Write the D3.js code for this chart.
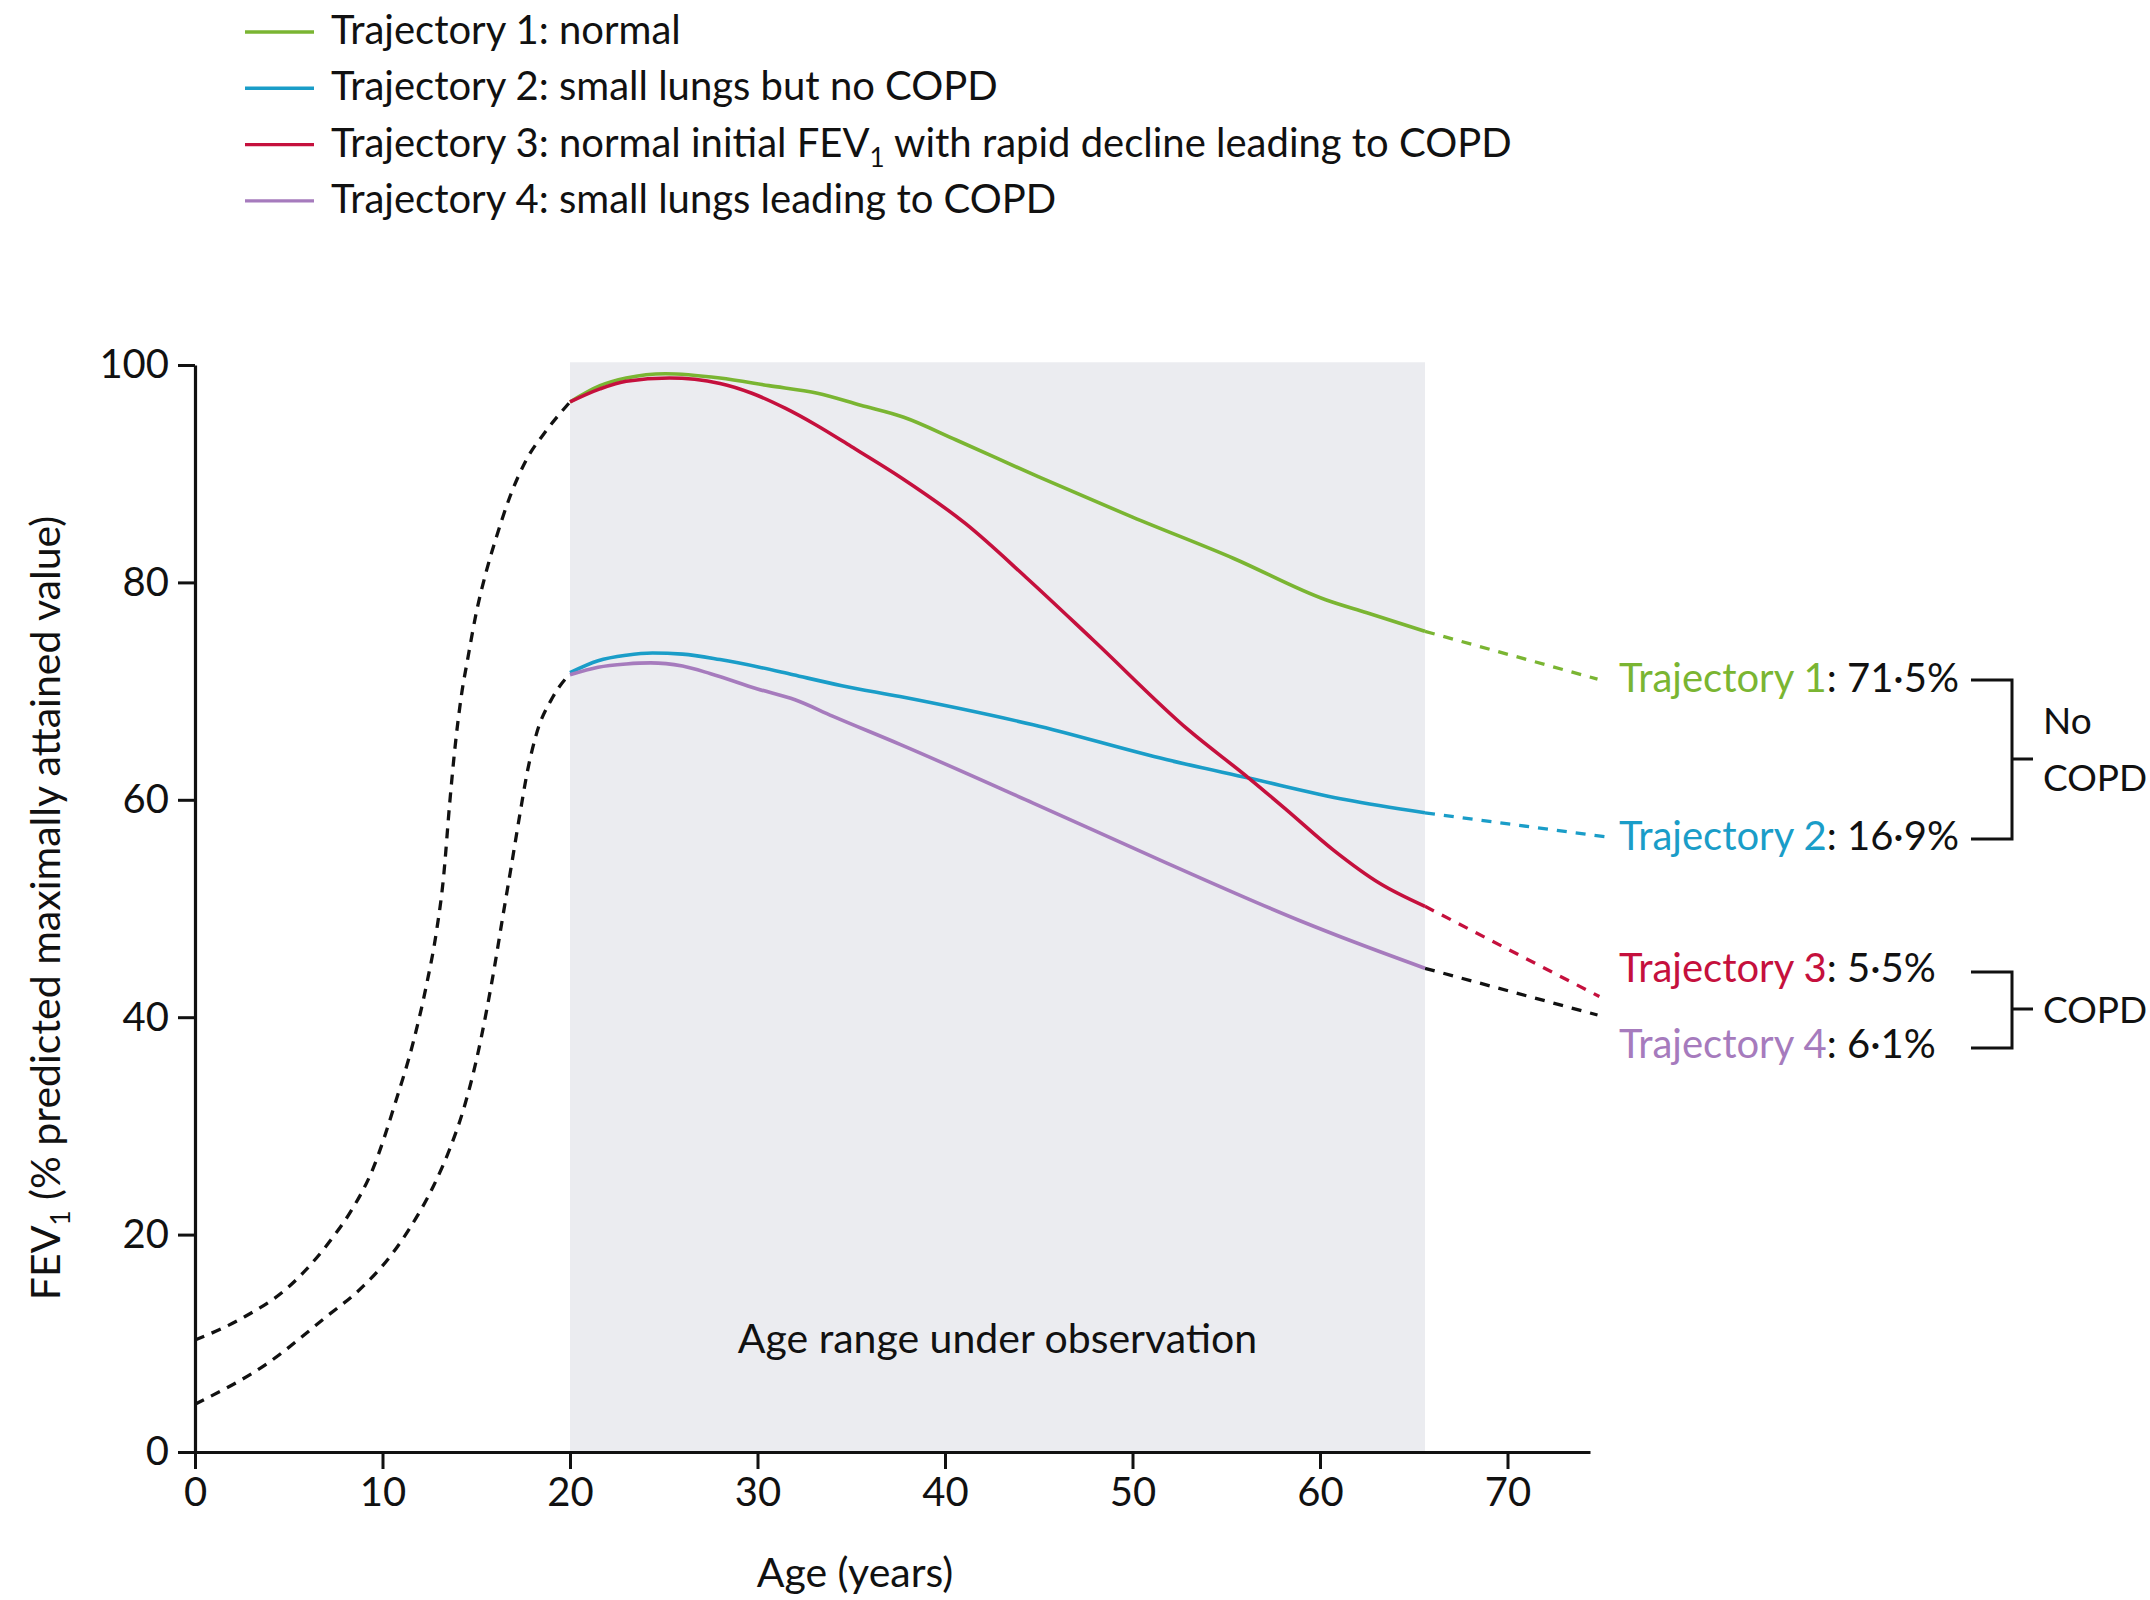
<!DOCTYPE html>
<html><head><meta charset="utf-8">
<script src="https://cdn.jsdelivr.net/npm/d3@7"></script>
<style>
body{margin:0;background:#fff}
svg{display:block}
text{font-family:Lato,"Open Sans",sans-serif;fill:#111}
</style>
</head><body>
<svg id="chart" width="2150" height="1600"></svg>
<script>
// ---------- data ----------
const seriesNames = ["Trajectory 1", "Trajectory 2", "Trajectory 3", "Trajectory 4"];
const seriesColors = ["#7ab532", "#1a9dc8", "#c5103d", "#a67bbd"];
const legendLabels = [
  "Trajectory 1: normal",
  "Trajectory 2: small lungs but no COPD",
  "Trajectory 3: normal initial FEV_1 with rapid decline leading to COPD",
  "Trajectory 4: small lungs leading to COPD"
];
const prevalence = ["71·5%", "16·9%", "5·5%", "6·1%"];
const groupLabels = [["No", "COPD"], ["COPD"]];

// solid trajectories (age range under observation)
const ageT1 = [20, 21.6, 23, 25.1, 28, 30.6, 33.2, 35.5, 37.8, 40.6, 45, 50, 55.4, 60.3, 62.5, 65.6];
const fevT1 = [96.6, 98.1, 98.8, 99.2, 98.8, 98.1, 97.4, 96.3, 95.2, 93.1, 89.7, 86.0, 82.2, 78.4, 77.2, 75.5];
const ageT2 = [20, 21.5, 23, 24.4, 26, 28, 30.1, 31.9, 34.5, 37.6, 44.7, 51.8, 56.2, 61.4, 65.6];
const fevT2 = [71.7, 72.8, 73.3, 73.5, 73.4, 72.9, 72.2, 71.5, 70.5, 69.5, 66.9, 63.7, 62.0, 60.0, 58.8];
const ageT3 = [20, 21.6, 23, 25.3, 28, 29.7, 31.5, 33.1, 35, 37.6, 41.1, 44.3, 47.9, 53, 56.2, 58.2, 60.7, 63.2, 65.6];
const fevT3 = [96.6, 97.8, 98.5, 98.8, 98.3, 97.4, 96.0, 94.5, 92.5, 89.7, 85.4, 80.5, 74.7, 66.4, 62.0, 59.1, 55.4, 52.3, 50.2];
const ageT4 = [20, 21.5, 23, 24.3, 26, 27.5, 30, 32, 34, 37.6, 44.7, 51.8, 58.9, 62, 65.6];
const fevT4 = [71.5, 72.2, 72.5, 72.6, 72.3, 71.6, 70.2, 69.2, 67.7, 65.1, 59.7, 54.2, 48.9, 46.8, 44.5];

// projected extensions after the observed range
const extAge = [[65.6, 74.8], [65.6, 75.2], [65.6, 74.9], [65.6, 74.8]];
const extFev = [[75.5, 71.1], [58.8, 56.6], [50.2, 41.9], [44.5, 40.2]];
const extColors = ["#7ab532", "#1a9dc8", "#c5103d", "#111111"];

// growth phase (dashed, before observation)
const ageGrowthHigh = [0, 2.5, 5, 6.2, 7.46, 8.26, 9.5, 10.75, 11.64, 12.35, 12.88, 13.24, 13.59, 13.86, 14.2, 14.57, 15.0, 15.55, 16.08, 16.8, 17.68, 18.75, 20];
const fevGrowthHigh = [10.3, 12.3, 15.2, 17.3, 20.0, 22.0, 26.1, 32.5, 37.7, 43.0, 47.9, 52.6, 59.8, 64.7, 69.5, 73.2, 77.2, 81.1, 84.2, 87.9, 91.3, 94.0, 96.6];
const ageGrowthLow = [0, 3.9, 6.9, 9, 10.5, 11.46, 12.7, 13.59, 14.3, 15.0, 15.55, 15.99, 16.43, 16.88, 17.32, 17.75, 18.2, 19.1, 20];
const fevGrowthLow = [4.4, 8.2, 12.3, 15.3, 18.2, 20.6, 24.4, 27.9, 31.4, 36.0, 40.6, 44.8, 49.4, 54.0, 58.6, 62.8, 66.0, 69.5, 71.6];

const observedRange = [20, 65.6];
const xTicks = [0, 10, 20, 30, 40, 50, 60, 70];
const yTicks = [0, 20, 40, 60, 80, 100];

// ---------- drawing ----------
const svg = d3.select("#chart");
const FS = 40;      // legend / labels
const FT = 41;      // titles
const FG = 37;      // group labels
const x = d3.scaleLinear().domain([0, 74.4]).range([195, 1590]);
const y = d3.scaleLinear().domain([0, 100]).range([1452, 365]);

const zip = (a, b) => a.map((v, i) => [v, b[i]]);
const line = d3.line().x(d => x(d[0])).y(d => y(d[1])).curve(d3.curveMonotoneX);
const straight = d3.line().x(d => x(d[0])).y(d => y(d[1]));

// shaded observation window
svg.append("rect")
  .attr("x", x(observedRange[0])).attr("y", y(100.25))
  .attr("width", x(observedRange[1]) - x(observedRange[0]))
  .attr("height", y(0) - y(100.25))
  .attr("fill", "#ebecf0");

svg.append("text")
  .attr("x", (x(observedRange[0]) + x(observedRange[1])) / 2)
  .attr("y", 1353).attr("text-anchor", "middle")
  .style("font-size", FT + "px")
  .text("Age range under observation");

// growth dashed curves
[[ageGrowthHigh, fevGrowthHigh], [ageGrowthLow, fevGrowthLow]].forEach(([a, f]) => {
  svg.append("path").attr("d", line(zip(a, f)))
    .attr("fill", "none").attr("stroke", "#111").attr("stroke-width", 3.3)
    .attr("stroke-dasharray", "10,8");
});

// extensions
extAge.forEach((a, i) => {
  svg.append("path").attr("d", straight(zip(a, extFev[i])))
    .attr("fill", "none").attr("stroke", extColors[i]).attr("stroke-width", 3.3)
    .attr("stroke-dasharray", "10,9");
});

// solid trajectories (red drawn over green)
const solids = [[ageT1, fevT1], [ageT2, fevT2], [ageT4, fevT4], [ageT3, fevT3]];
const solidIdx = [0, 1, 3, 2];
solids.forEach(([a, f], k) => {
  svg.append("path").attr("d", line(zip(a, f)))
    .attr("fill", "none").attr("stroke", seriesColors[solidIdx[k]])
    .attr("stroke-width", 3.6).attr("stroke-linejoin", "round");
});

// axes
const xAxis = d3.axisBottom(x).tickValues(xTicks).tickSize(17).tickPadding(9).tickSizeOuter(0);
const gx = svg.append("g").attr("transform", `translate(0,${y(0)})`).call(xAxis);
const yAxis = d3.axisLeft(y).tickValues(yTicks).tickSize(17).tickPadding(9).tickSizeOuter(0);
const gy = svg.append("g").attr("transform", `translate(${x(0)},0)`).call(yAxis);
[gx, gy].forEach(g => {
  g.select(".domain").attr("stroke", "#111").attr("stroke-width", 3.2);
  g.selectAll(".tick line").attr("stroke", "#111").attr("stroke-width", 3);
  g.selectAll(".tick text").style("font-size", FS + "px").style("font-family", "Lato, sans-serif").attr("fill", "#111");
});

// axis titles
svg.append("text").attr("x", 855).attr("y", 1587).attr("text-anchor", "middle")
  .style("font-size", FT + "px").text("Age (years)");
const yt = svg.append("text").attr("transform", "translate(60,908) rotate(-90)")
  .attr("text-anchor", "middle").style("font-size", FT + "px");
yt.append("tspan").text("FEV");
yt.append("tspan").attr("dy", 10).style("font-size", "26px").text("1");
yt.append("tspan").attr("dy", -10).text(" (% predicted maximally attained value)");

// legend
legendLabels.forEach((lab, i) => {
  const by = 44 + i * 56.3;
  svg.append("line").attr("x1", 245).attr("x2", 314).attr("y1", by - 12).attr("y2", by - 12)
    .attr("stroke", seriesColors[i]).attr("stroke-width", 3.4);
  const t = svg.append("text").attr("x", 331).attr("y", by).style("font-size", FS + "px");
  const parts = lab.split("_1");
  t.append("tspan").text(parts[0]);
  if (parts.length > 1) {
    t.append("tspan").attr("dy", 10).style("font-size", "26px").text("1");
    t.append("tspan").attr("dy", -10).text(parts[1]);
  }
});

// right-hand labels
const labelBase = [692, 850, 982, 1058];
seriesNames.forEach((n, i) => {
  const t = svg.append("text").attr("x", 1619).attr("y", labelBase[i]).style("font-size", FS + "px");
  t.append("tspan").style("fill", seriesColors[i]).text(n);
  t.append("tspan").text(": " + prevalence[i]);
});

// brackets
function bracket(y1, y2, ym) {
  const p = d3.path();
  p.moveTo(1971, y1); p.lineTo(2012, y1); p.lineTo(2012, y2); p.lineTo(1971, y2);
  p.moveTo(2012, ym); p.lineTo(2033, ym);
  svg.append("path").attr("d", p.toString()).attr("fill", "none")
    .attr("stroke", "#111").attr("stroke-width", 3);
}
bracket(680, 839, 759);
bracket(972, 1048, 1009);
svg.append("text").attr("x", 2043).attr("y", 734).style("font-size", FG + "px").text(groupLabels[0][0]);
svg.append("text").attr("x", 2043).attr("y", 791).style("font-size", FG + "px").text(groupLabels[0][1]);
svg.append("text").attr("x", 2043).attr("y", 1023).style("font-size", FG + "px").text(groupLabels[1][0]);
</script>
</body></html>
